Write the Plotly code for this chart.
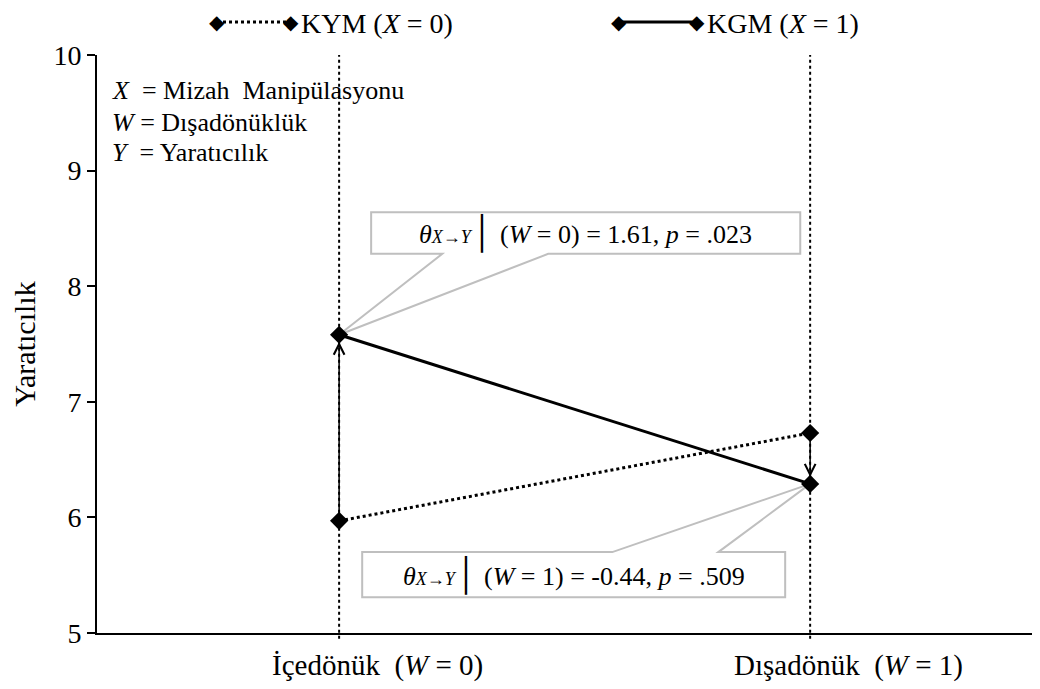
import plotly.graph_objects as go

# moderator levels (W) and simple slopes data
w_levels = [0, 1]
w_labels = ["İçedönük  (<i>W</i> = 0)", "Dışadönük  (<i>W</i> = 1)"]
kym_values = [5.97, 6.73]   # X = 0
kgm_values = [7.58, 6.29]   # X = 1
effects = ["1.61", "-0.44"]
p_values = [".023", ".509"]

FONT = "Liberation Serif"
# the page body adds an 8px offset, so the figure is drawn 8px smaller
OFF = 8
W_PX, H_PX = 1040 - OFF, 689 - OFF
L, R, T, B = 97 - OFF, 0, 55 - OFF, 56
PLOT_W = W_PX - L - R
PLOT_H = H_PX - T - B


def px(x):
    # window pixel -> paper x
    return (x - OFF - L) / PLOT_W


def py(y):
    # window pixel -> paper y
    return (T + PLOT_H - (y - OFF)) / PLOT_H


fig = go.Figure()

fig.add_trace(go.Scatter(
    x=w_levels, y=kym_values, mode="lines+markers",
    line=dict(color="black", width=3, dash="dot"),
    marker=dict(symbol="diamond", size=14, color="black"),
    showlegend=False, hoverinfo="skip",
))
fig.add_trace(go.Scatter(
    x=w_levels, y=kgm_values, mode="lines+markers",
    line=dict(color="black", width=3),
    marker=dict(symbol="diamond", size=14, color="black"),
    showlegend=False, hoverinfo="skip",
))

shapes = []
# vertical dotted guides at each W
for w in w_levels:
    shapes.append(dict(type="line", xref="x", yref="paper", x0=w, x1=w, y0=-0.01, y1=1,
                       line=dict(color="black", width=2, dash="dot"), layer="below"))

# callout boxes: (x0, x1, y_top, y_bot, base1, base2)
callouts = [
    (0.068, 0.979, 8.64, 8.28, 0.219, 0.444),
    (0.049, 0.947, 5.70, 5.31, 0.580, 0.805),
]
for i, (x0, x1, yt, yb, b1, b2) in enumerate(callouts):
    tx, ty = w_levels[i], kgm_values[i]
    if i == 0:
        path = (f"M{x0},{yt} L{x1},{yt} L{x1},{yb} L{b2},{yb} L{tx},{ty} "
                f"L{b1},{yb} L{x0},{yb} Z")
    else:
        path = (f"M{x0},{yt} L{b1},{yt} L{tx},{ty} L{b2},{yt} L{x1},{yt} "
                f"L{x1},{yb} L{x0},{yb} Z")
    shapes.append(dict(type="path", xref="x", yref="y", path=path,
                       line=dict(color="#bfbfbf", width=2), fillcolor="white", layer="below"))
    fig.add_annotation(
        x=(x0 + x1) / 2, y=(yt + yb) / 2, xref="x", yref="y", showarrow=False,
        xanchor="center", yanchor="middle",
        text=(f"<i>θ</i><span style='font-size:18px'><i>X</i>→<i>Y</i></span>"
              f"<span style='font-size:32px'>│</span> (<i>W</i> = {w_levels[i]}) = "
              f"{effects[i]}, <i>p</i> = {p_values[i]}"),
        font=dict(family=FONT, size=26, color="black"),
    )

# arrows from X=0 to X=1 at each W
for i, w in enumerate(w_levels):
    fig.add_annotation(
        x=w, y=kgm_values[i], ax=w, ay=kym_values[i],
        xref="x", yref="y", axref="x", ayref="y",
        text="", showarrow=True, arrowhead=5, arrowsize=1.4, arrowwidth=1.5,
        arrowcolor="black", standoff=7,
    )

# category labels under the x axis (set slightly right of each category)
for w, lab in zip(w_levels, w_labels):
    fig.add_annotation(x=w, y=py(665), xref="x", yref="paper", showarrow=False,
                       xanchor="center", yanchor="middle", xshift=38, text=lab,
                       font=dict(family=FONT, size=29, color="black"))

# custom legend at top
legend_items = [
    (217, 291, "dot", "KYM (<i>X</i> = 0)"),
    (619, 697, "solid", "KGM (<i>X</i> = 1)"),
]
for xa, xb, dash, label in legend_items:
    shapes.append(dict(type="line", xref="paper", yref="paper", x0=px(xa), x1=px(xb),
                       y0=py(22), y1=py(22), line=dict(color="black", width=3, dash=dash)))
    for xm in (xa, xb):
        fig.add_annotation(x=px(xm), y=py(22), xref="paper", yref="paper", showarrow=False,
                           xanchor="center", yanchor="middle",
                           text="◆", font=dict(family="DejaVu Sans", size=20, color="black"))
    fig.add_annotation(x=px(xb + 8), y=py(24), xref="paper", yref="paper", showarrow=False,
                       xanchor="left", yanchor="middle", text=label,
                       font=dict(family=FONT, size=28, color="black"))

# variable definitions
defs = [
    (90, "<i>X</i>  = Mizah  Manipülasyonu"),
    (122, "<i>W</i> = Dışadönüklük"),
    (152, "<i>Y</i>  = Yaratıcılık"),
]
for yy, txt in defs:
    fig.add_annotation(x=px(110), y=py(yy), xref="paper", yref="paper", showarrow=False,
                       xanchor="left", yanchor="middle", text=txt,
                       font=dict(family=FONT, size=26, color="black"))

fig.update_layout(
    width=W_PX, height=H_PX,
    margin=dict(l=L, r=R, t=T, b=B),
    paper_bgcolor="white", plot_bgcolor="white",
    font=dict(family=FONT, color="black"),
    shapes=shapes,
    showlegend=False,
)
fig.update_xaxes(
    range=[-0.514, 1.488], tickvals=w_levels, showticklabels=False,
    showgrid=False, zeroline=False, showline=True, linecolor="black", linewidth=2,
    ticks="",
)
fig.update_yaxes(
    range=[5, 10], dtick=1, showgrid=False, zeroline=False,
    showline=True, linecolor="black", linewidth=2,
    ticks="outside", ticklen=8, tickwidth=2, tickcolor="black",
    tickfont=dict(family=FONT, size=28),
    title=dict(text="Yaratıcılık", font=dict(family=FONT, size=30), standoff=22),
)

fig.write_html("out.html")
